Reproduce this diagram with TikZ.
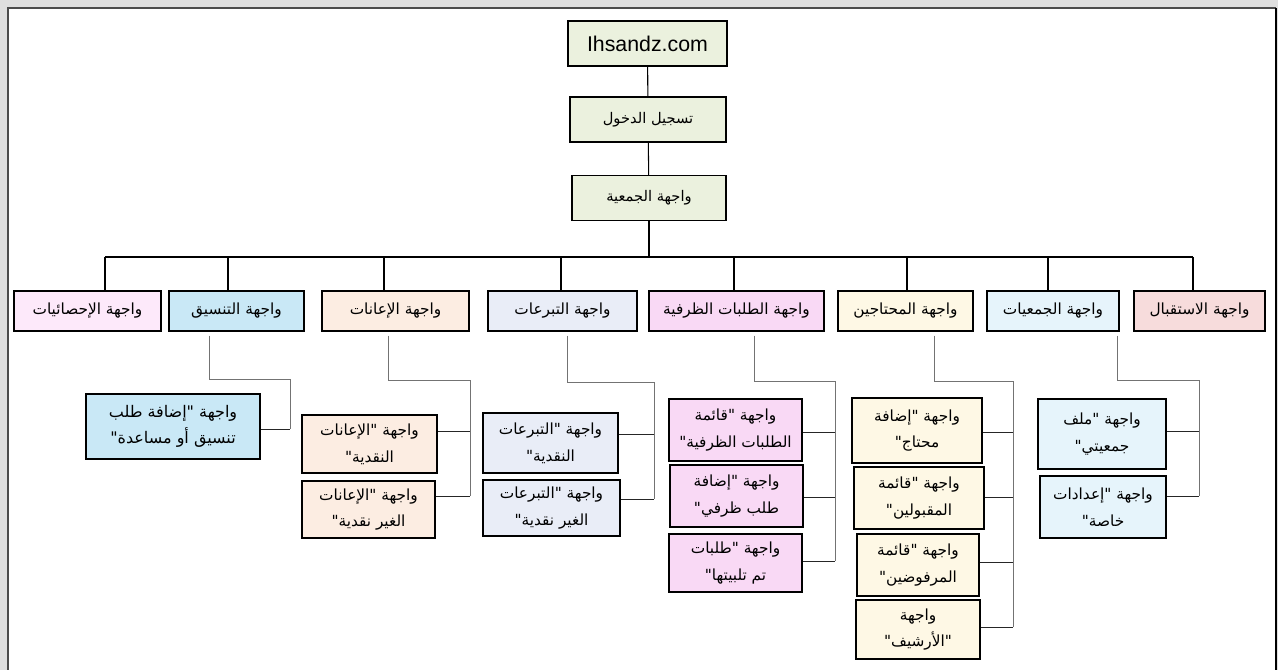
\documentclass[tikz,border=0pt]{standalone}
\usepackage{fontspec}
\setmainfont{Liberation Sans}
\newfontfamily\arabicfont[Script=Arabic]{DejaVu Sans}
\TeXXeTstate=1
\newcommand{\ar}[1]{{\arabicfont\beginR #1\endR}}
\usetikzlibrary{arrows,shapes}
\definecolor{topgreen}{HTML}{EBF1DE}
\definecolor{statpink}{HTML}{FDE9FA}
\definecolor{coordblue}{HTML}{C9E8F6}
\definecolor{aidpeach}{HTML}{FCEDE2}
\definecolor{donblue}{HTML}{E9EDF7}
\definecolor{reqpink}{HTML}{F9D9F5}
\definecolor{needcream}{HTML}{FEF8E5}
\definecolor{assocblue}{HTML}{E6F4FB}
\definecolor{recrose}{HTML}{F7DCDC}
\tikzstyle{screen}=[draw=black,line width=1.1pt,align=center,inner sep=1pt,font=\fontsize{11.5}{20}\selectfont]
\tikzstyle{top screen}=[screen,fill=topgreen,minimum height=45*0.75pt,font=\fontsize{11}{20}\selectfont]
\tikzstyle{bus}=[draw,black,line width=0.8pt]
\tikzstyle{link}=[draw,black!55,line width=0.75pt]
\tikzstyle{branch}=[draw,black!85,line width=0.75pt]

\begin{document}
\begin{tikzpicture}[x=0.75pt,y=-0.75pt]
    % page with its grey frame
    \useasboundingbox (0,0) rectangle (1278,670);
    \fill[gray!25] (0,0) rectangle (1278,670);
    \fill[white] (8,8) rectangle (1276,670);
    \draw[black!70,line width=1.5pt] (8,670) -- (8,8) -- (1276,8);
    \draw[black,line width=1.5pt] (1276,8) -- (1276,670);

    % First the three screens on top
    \node[top screen,minimum width=159*0.75pt,font=\fontsize{16}{19}\selectfont] (site) at (647.5,43.5) {Ihsandz.com};
    \node[top screen,minimum width=156*0.75pt] (login) at (648,119.5) {\ar{تسجيل الدخول}};
    \node[top screen,minimum width=154*0.75pt] (home) at (649,198) {\ar{واجهة الجمعية}};
    \path[bus] (site) -- (login);
    \path[bus] (login) -- (home);

    % The row of main screens
    \foreach \pos/\w/\col/\name/\txt in {
        {(87.5,311)}/147/statpink/stats/{واجهة الإحصائيات},
        {(236.5,311)}/135/coordblue/coord/{واجهة التنسيق},
        {(395.5,311)}/147/aidpeach/aid/{واجهة الإعانات},
        {(562.5,311)}/149/donblue/don/{واجهة التبرعات},
        {(736.5,311)}/175/reqpink/req/{واجهة الطلبات الظرفية},
        {(905.5,311)}/135/needcream/needy/{واجهة المحتاجين},
        {(1053,311)}/132/assocblue/assocs/{واجهة الجمعيات},
        {(1199.5,311)}/131/recrose/recep/{واجهة الاستقبال}}
        \node[screen,fill=\col,minimum width=\w*0.75pt,minimum height=40*0.75pt] (\name) at \pos {\ar{\txt}};

    % Bus from the home screen to the row
    \coordinate (busL) at (105,257);
    \coordinate (busR) at (1193,257);
    \path[bus] (home.south) -- (home.south |- busL);
    \path[bus] (busL) -- (busR);
    \foreach \name/\x in {stats/105,coord/228,aid/384,don/561,req/734,needy/907,assocs/1048,recep/1193}
        \path[bus] (\x,257) -- (\name.north -| \x,257);

    % Elbows down to the trunks
    \foreach \name/\dx/\tx/\ey/\last in {coord/-27.5/290/379/429,aid/-7.5/470/380/496,don/4.5/654/382/499,
        req/17.5/835/381/561,needy/28.5/1013/381/627,assocs/64/1199/380/496}
        \path[link] ([xshift=\dx*0.75pt,yshift=-3pt]\name.south) |- (\tx,\ey) -- (\tx,\last);

    % Sub screens
    \node[screen,fill=coordblue,minimum width=174*0.75pt,minimum height=65*0.75pt,font=\fontsize{12}{20}\selectfont] (coord1) at (173,426.5)
        {\ar{واجهة "إضافة طلب}\\\ar{تنسيق أو مساعدة"}};
    \path[branch] (coord1.east |- 290,429) -- (290,429);

    \foreach \pos/\w/\h/\col/\tx/\by/\name/\txt in {
        {(369.5,444)}/135/58/aidpeach/470/431/aid1/{\ar{واجهة "الإعانات}\\\ar{النقدية"}},
        {(368.5,509.5)}/133/57/aidpeach/470/496/aid2/{\ar{واجهة "الإعانات}\\\ar{الغير نقدية"}},
        {(550.5,443)}/135/60/donblue/654/434/don1/{\ar{واجهة "التبرعات}\\\ar{النقدية"}},
        {(551.5,508)}/137/56/donblue/654/499/don2/{\ar{واجهة "التبرعات}\\\ar{الغير نقدية"}},
        {(735.5,430)}/133/62/reqpink/835/432/req1/{\ar{واجهة "قائمة}\\\ar{الطلبات الظرفية"}},
        {(736.5,496)}/133/62/reqpink/835/497/req2/{\ar{واجهة "إضافة}\\\ar{طلب ظرفي"}},
        {(735.5,563)}/133/58/reqpink/835/561/req3/{\ar{واجهة "طلبات}\\\ar{تم تلبيتها"}},
        {(917,430.5)}/130/65/needcream/1013/432/needy1/{\ar{واجهة "إضافة}\\\ar{محتاج"}},
        {(919,498)}/130/62/needcream/1013/497/needy2/{\ar{واجهة "قائمة}\\\ar{المقبولين"}},
        {(918,565)}/122/62/needcream/1013/562/needy3/{\ar{واجهة "قائمة}\\\ar{المرفوضين"}},
        {(918,629.5)}/124/59/needcream/1013/627/needy4/{\ar{واجهة}\\\ar{"الأرشيف"}},
        {(1102,434)}/128/70/assocblue/1199/431/assocs1/{\ar{واجهة "ملف}\\\ar{جمعيتي"}},
        {(1103,507)}/126/62/assocblue/1199/496/assocs2/{\ar{واجهة "إعدادات}\\\ar{خاصة"}}}
    {
        \node[screen,fill=\col,minimum width=\w*0.75pt,minimum height=\h*0.75pt] (\name) at \pos {\txt};
        \path[branch] (\name.east |- \tx,\by) -- (\tx,\by);
    }
\end{tikzpicture}
\end{document}
